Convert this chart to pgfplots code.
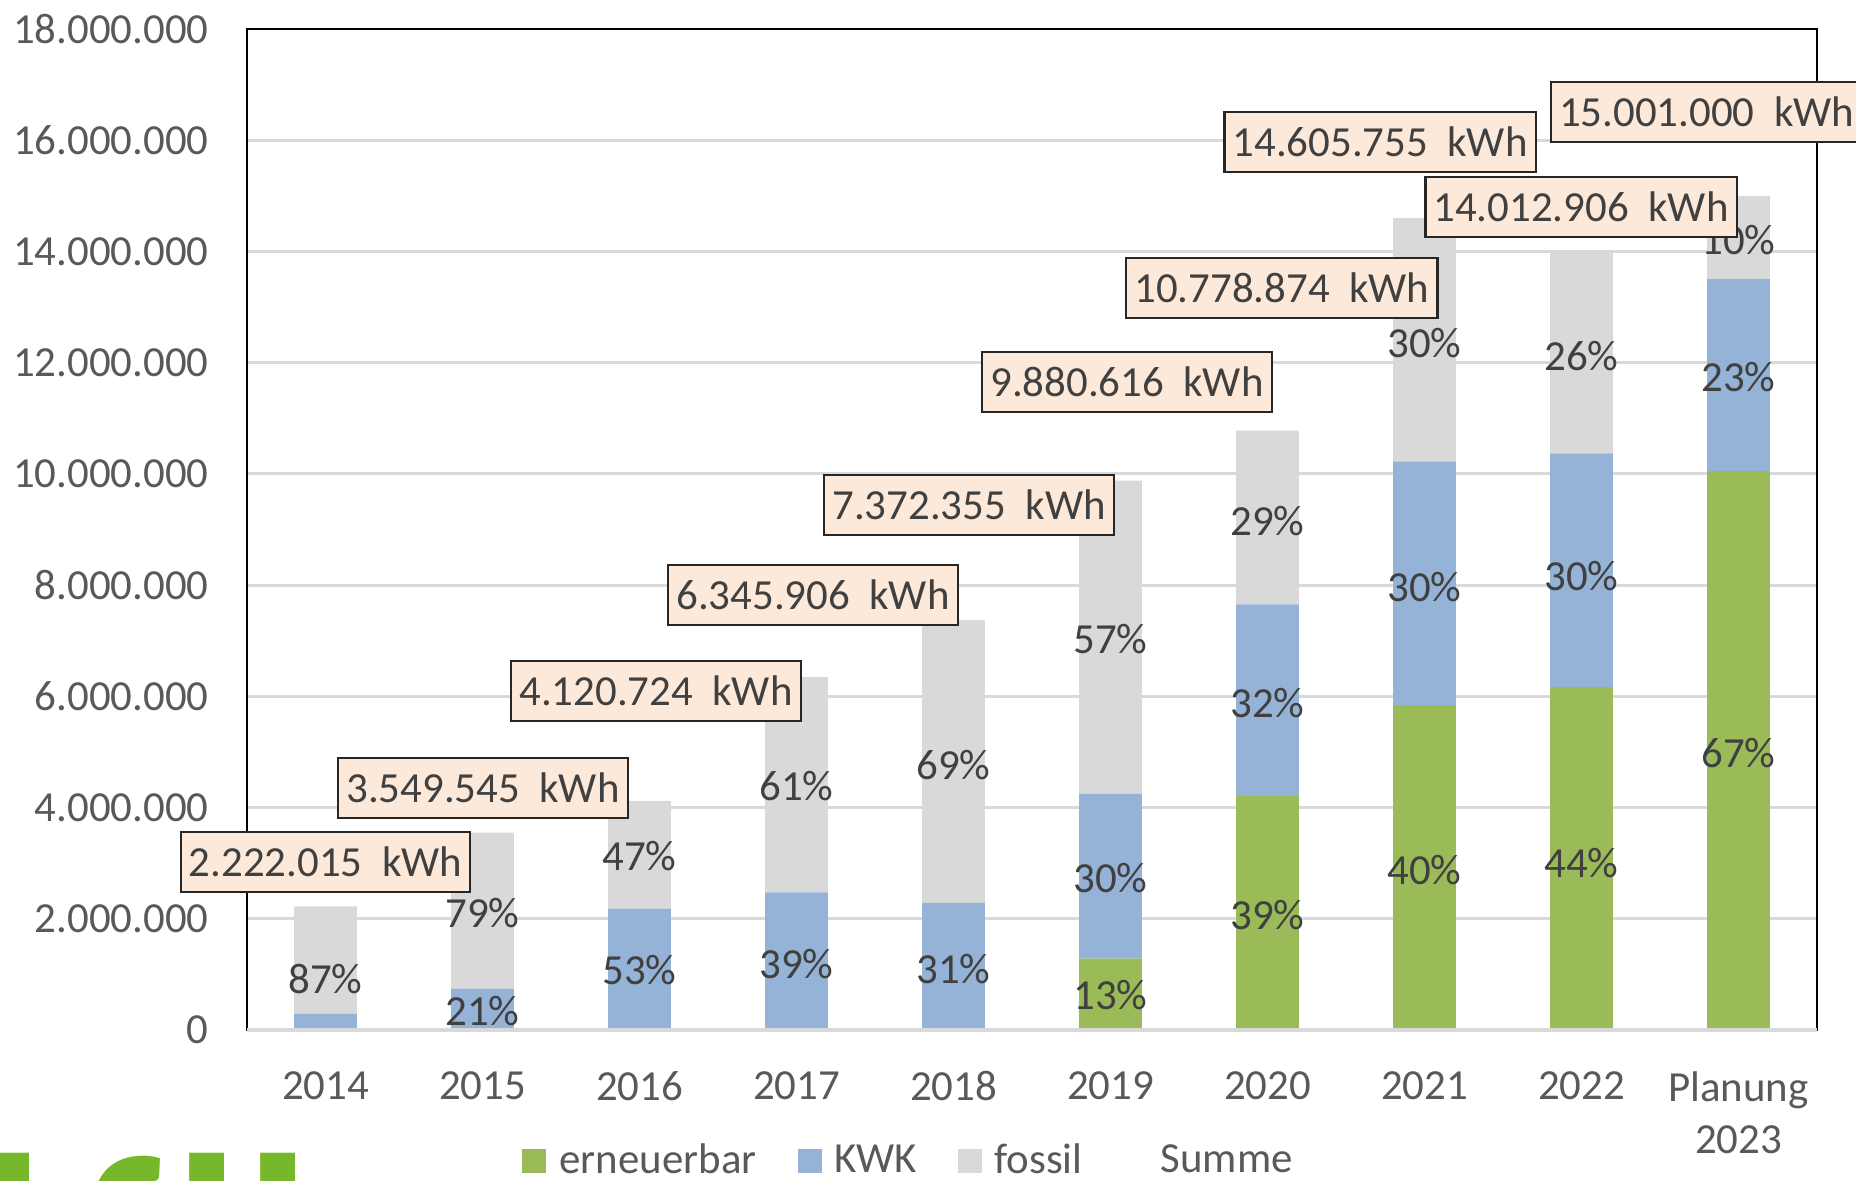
\documentclass[border=0pt]{standalone}
\usepackage{pgfplots}
\pgfplotsset{compat=1.18}
\usepackage{pgfplotstable}
\usepackage{fontspec}
\setmainfont{Carlito}

\definecolor{cern}{HTML}{9BBB59}
\definecolor{ckwk}{HTML}{95B3D7}
\definecolor{cfos}{HTML}{D9D9D9}
\definecolor{ctick}{HTML}{595959}
\definecolor{clab}{HTML}{404040}
\definecolor{cbox}{HTML}{FDE9D9}
\definecolor{clogo}{HTML}{76B82A}

\newcommand\lf{\fontsize{12.2}{15}\selectfont}

% Energie je Jahr in kWh: erneuerbar, KWK, fossil
\pgfplotstableread{
x ern kwk fos
0 0 288862 1933153
1 0 745404 2804141
2 0 2183984 1936740
3 0 2474903 3871003
4 0 2285430 5086925
5 1284480 2964185 5631951
6 4203761 3449240 3125873
7 5842302 4381727 4381726
8 6165679 4203872 3643355
9 10050670 3450230 1500100
}\energie

\pgfplotsset{sq legend/.style={legend image code/.code={
  \fill[##1] (0cm,-0.12cm) rectangle (0.24cm,0.12cm);}}}
\tikzset{
  pl/.style={font=\lf, text=clab},
  kb/.style={font=\lf, text=clab, fill=cbox, draw=black!85, line width=0.6pt,
    inner xsep=0.08cm, minimum height=0.6cm},
}

% Beschriftungen, nach den gestapelten Balken gezeichnet
\newcommand\annot{%
\draw[cfos, line width=1pt] (rel axis cs:0,0) -- (rel axis cs:1,0);
\node[pl] at (axis cs:0,920000) {87\%};
\node[pl] at (axis cs:1,2110000) {79\%};
\node[pl] at (axis cs:1,340000) {21\%};
\node[pl] at (axis cs:2,3130000) {47\%};
\node[pl] at (axis cs:2,1070000) {53\%};
\node[pl] at (axis cs:3,4390000) {61\%};
\node[pl] at (axis cs:3,1190000) {39\%};
\node[pl] at (axis cs:4,4770000) {69\%};
\node[pl] at (axis cs:4,1090000) {31\%};
\node[pl] at (axis cs:5,7030000) {57\%};
\node[pl] at (axis cs:5,2730000) {30\%};
\node[pl] at (axis cs:5,620000) {13\%};
\node[pl] at (axis cs:6,9160000) {29\%};
\node[pl] at (axis cs:6,5880000) {32\%};
\node[pl] at (axis cs:6,2070000) {39\%};
\node[pl] at (axis cs:7,12360000) {30\%};
\node[pl] at (axis cs:7,7970000) {30\%};
\node[pl] at (axis cs:7,2880000) {40\%};
\node[pl] at (axis cs:8,12120000) {26\%};
\node[pl] at (axis cs:8,8160000) {30\%};
\node[pl] at (axis cs:8,3000000) {44\%};
\node[pl] at (axis cs:9,14210000) {10\%};
\node[pl] at (axis cs:9,11740000) {23\%};
\node[pl] at (axis cs:9,4980000) {67\%};
\node[kb] at (axis cs:0.0,3020000) {2.222.015~~kWh};
\node[kb] at (axis cs:1.003,4350000) {3.549.545~~kWh};
\node[kb] at (axis cs:2.105,6100000) {4.120.724~~kWh};
\node[kb] at (axis cs:3.105,7820000) {6.345.906~~kWh};
\node[kb] at (axis cs:4.099,9440000) {7.372.355~~kWh};
\node[kb] at (axis cs:5.105,11650000) {9.880.616~~kWh};
\node[kb] at (axis cs:6.092,13340000) {10.778.874~~kWh};
\node[kb] at (axis cs:6.717,15970000) {14.605.755~~kWh};
\node[kb] at (axis cs:7.997,14800000) {14.012.906~~kWh};
\node[kb, anchor=west] at (axis cs:7.80,16510000) {15.001.000~~kWh};
}

\begin{document}
\begin{tikzpicture}
\path[use as bounding box, clip] (0,0) rectangle (18.56,11.80);
\begin{axis}[
  at={(2.47cm,1.50cm)}, anchor=south west,
  width=15.70cm, height=10.01cm, scale only axis,
  ybar stacked, bar width=0.4,
  xmin=-0.5, xmax=9.5, ymin=0, ymax=18000000,
  xtick={0,...,9},
  xticklabels={2014,2015,2016,2017,2018,2019,2020,2021,2022,{Planung\\2023}},
  ytick={0,2000000,...,18000000},
  scaled y ticks=false,
  /pgf/number format/fixed,
  /pgf/number format/precision=0,
  /pgf/number format/1000 sep={.},
  /pgf/number format/assume math mode=true,
  yticklabel style={font=\lf, text=ctick, xshift=-0.26cm},
  xticklabel style={font=\lf, text=ctick, align=center, anchor=north, yshift=-0.29cm},
  major tick length=0pt,
  ymajorgrids, grid style={cfos, line width=0.8pt},
  axis line style={black, line width=0.6pt},
  clip=false,
  legend style={draw=none, fill=none, font=\lf, text=ctick,
    at={(0.423,-0.131)}, anchor=center, legend columns=-1,
    /tikz/every odd column/.append style={column sep=0.06cm},
    /tikz/every even column/.append style={column sep=0.34cm}},
  after end axis/.code={\annot},
]
\addplot[fill=cern, draw=none, sq legend] table[x=x, y=ern] {\energie};
\addlegendentry{erneuerbar}
\addplot[fill=ckwk, draw=none, sq legend] table[x=x, y=kwk] {\energie};
\addlegendentry{KWK}
\addplot[fill=cfos, draw=none, sq legend] table[x=x, y=fos] {\energie};
\addlegendentry{fossil}
\addlegendimage{draw=none, fill=none, legend image code/.code={\path[draw=none, fill=none] (0cm,-0.12cm) rectangle (0.24cm,0.12cm);}}
\addlegendentry{Summe}
\end{axis}
% angeschnittenes Logo unten links
\begin{scope}[every node/.style={anchor=north, inner sep=0, text=clogo,
  font=\fontsize{80}{80}\selectfont\bfseries}]
\node at (0.12,0.27) {l};
\node at (1.17,0.25) {f};
\node at (2.07,0.27) {l};
\node at (2.78,0.27) {l};
\end{scope}
\end{tikzpicture}
\end{document}
